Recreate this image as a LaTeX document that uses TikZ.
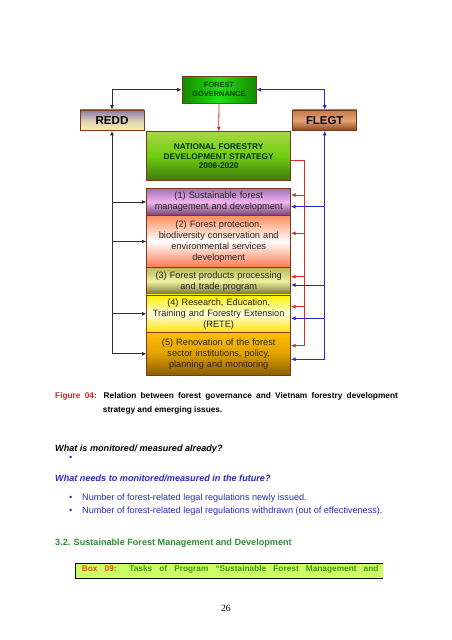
\documentclass[tikz,border=0pt]{standalone}
\usepackage{fontspec}
\setmainfont{Liberation Sans}
\newfontfamily\pagefont{Liberation Serif}
\usetikzlibrary{arrows.meta,calc}
\definecolor{boxedge}{HTML}{7A3A1A}
\definecolor{lnred}{HTML}{E02828}
\definecolor{lnblue}{HTML}{2828C8}
\definecolor{lnblack}{HTML}{303030}
\definecolor{txtblue}{HTML}{2A2AC0}
\definecolor{txtgreen}{HTML}{2F8F2F}
\definecolor{figred}{HTML}{E02020}
\definecolor{boxfill}{HTML}{CCFF66}
\definecolor{boxorange}{HTML}{E85010}
\definecolor{boxgreen}{HTML}{3A9A10}
\definecolor{FGedge}{HTML}{138A00}
\definecolor{FGmid}{HTML}{22E010}
\definecolor{REDDtop}{HTML}{8A78A8}
\definecolor{REDDmid}{HTML}{D8D0B8}
\definecolor{REDDbot}{HTML}{FFF2A0}
\definecolor{FLtop}{HTML}{C07848}
\definecolor{FLmid}{HTML}{E8A478}
\definecolor{FLbot}{HTML}{8A4418}
\definecolor{NFtop}{HTML}{A8D840}
\definecolor{NFmid}{HTML}{6CCC10}
\definecolor{NFbot}{HTML}{3E780A}
\definecolor{B1top}{HTML}{A070B0}
\definecolor{B1mid}{HTML}{F0B4F0}
\definecolor{B1bot}{HTML}{704070}
\definecolor{B2top}{HTML}{FF9060}
\definecolor{B2mid}{HTML}{FFFFFF}
\definecolor{B2bot}{HTML}{FF7850}
\definecolor{B3top}{HTML}{B8B860}
\definecolor{B3mid}{HTML}{F0F0A0}
\definecolor{B3bot}{HTML}{6E6E30}
\definecolor{B4top}{HTML}{FFF000}
\definecolor{B4mid}{HTML}{FFFFE0}
\definecolor{B4bot}{HTML}{FFE000}
\definecolor{B5top}{HTML}{FFC000}
\definecolor{B5mid}{HTML}{E0A000}
\definecolor{B5bot}{HTML}{8A5E00}
\tikzset{
  x=1pt, y=-1pt,
  bx/.style={draw=boxedge, line width=0.6pt, minimum width=144pt, text width=140pt,
    align=center, inner sep=0pt, font=\fontsize{9.2}{11}\selectfont, text=black!85},
  hd/.style={draw=boxedge, line width=0.6pt, inner sep=0pt, align=center},
  blk/.style={draw=lnblack, line width=0.8pt},
  rd/.style={draw=lnred, line width=0.8pt},
  bl/.style={draw=lnblue, line width=0.8pt},
  tip/.style={-{Latex[length=4.5pt,width=4pt]}},
  tips/.style={{Latex[length=4.5pt,width=4pt]}-{Latex[length=4.5pt,width=4pt]}},
  txt/.style={inner sep=0pt, anchor=base west},
}
\begin{document}
\begin{tikzpicture}
\fill[white] (0,0) rectangle (452,640);
\useasboundingbox (0,0) rectangle (452,640);

% header boxes
\node[hd, minimum width=74pt, minimum height=27.3pt, left color=FGedge, right color=FGedge, middle color=FGmid,
  font=\fontsize{7.4}{8.7}\selectfont\bfseries, text=green!25!black] (fg) at (219,89.7) {FOREST\\GOVERNANCE};
\node[hd, minimum width=64pt, minimum height=20.7pt, top color=REDDtop, bottom color=REDDbot, middle color=REDDmid,
  font=\fontsize{11.6}{13}\selectfont\bfseries] (redd) at (112,120.3) {REDD};
\node[hd, minimum width=64pt, minimum height=20.7pt, top color=FLtop, bottom color=FLbot, middle color=FLmid,
  font=\fontsize{11.4}{13}\selectfont\bfseries] (flegt) at (324.7,120.3) {FLEGT};
\node[hd, minimum width=144pt, minimum height=49pt, top color=NFtop, bottom color=NFbot, middle color=NFmid,
  font=\fontsize{8.3}{9.8}\selectfont\bfseries, text=black!80!green] (nf) at (218.7,156.2) {NATIONAL FORESTRY\\DEVELOPMENT STRATEGY\\2006-2020};

% program boxes
\node[bx, minimum height=27.4pt, top color=B1top, bottom color=B1bot, middle color=B1mid] (b1) at (218.7,202) {(1) Sustainable forest\\management and development};
\node[bx, minimum height=51.6pt, top color=B2top, bottom color=B2bot, middle color=B2mid] (b2) at (218.7,241.5) {(2) Forest protection,\\biodiversity conservation and\\environmental services\\development};
\node[bx, minimum height=27.7pt, top color=B3top, bottom color=B3bot, middle color=B3mid] (b3) at (218.7,281.2) {(3) Forest products processing\\and trade program};
\node[bx, minimum height=37.7pt, top color=B4top, bottom color=B4bot, middle color=B4mid] (b4) at (218.7,313.8) {(4) Research, Education,\\Training and Forestry Extension\\(RETE)};
\node[bx, minimum height=42.3pt, top color=B5top, bottom color=B5bot, middle color=B5mid] (b5) at (218.7,353.8) {(5) Renovation of the forest\\sector institutions, policy,\\planning and monitoring};

% top connectors
\draw[blk, tips] (redd.north) |- (fg.west);
\draw[bl, tips] (flegt.north) |- (fg.east);
\draw[rd, tip] (fg.south) -- (nf.north);

% black trunk (REDD)
\draw[blk, tip] (redd.south |- b5.west) -- (redd.south);
\foreach \b in {b1,b2,b4,b5} \draw[blk, tip] (redd.south |- \b.west) -- (\b.west);

% red trunk (strategy)
\coordinate (rtop) at (304.3,160);
\coordinate (r1) at (304.3,195);
\coordinate (r2) at (304.3,233.3);
\coordinate (r3) at (304.3,276.7);
\coordinate (r4) at (304.3,306.7);
\coordinate (r5) at (304.3,345.7);
\draw[rd] (nf.east |- rtop) -- (rtop) -- (r5);
\draw[rd, tip] (r1) -- (b1.east |- r1);
\draw[rd, tip] (r2) -- (b2.east |- r2);
\draw[rd, tip] (r3) -- (b3.east |- r3);
\draw[rd, tip] (r4) -- (b4.east |- r4);
\draw[rd, tip] (r5) -- (b5.east |- r5);

% blue trunk (FLEGT)
\coordinate (u1) at (324.7,206.7);
\coordinate (u3) at (324.7,285);
\coordinate (u4) at (324.7,318.3);
\coordinate (u5) at (324.7,359.3);
\draw[bl, tip] (u5) -- (flegt.south);
\draw[bl, tip] (u1) -- (b1.east |- u1);
\draw[bl, tip] (u3) -- (b3.east |- u3);
\draw[bl, tip] (u4) -- (b4.east |- u4);
\draw[bl, tip] (u5) -- (b5.east |- u5);

% caption
\node[txt, font=\fontsize{8.3}{10}\selectfont\bfseries] (cap1) at (55,398)
  {\makebox[342.7pt][s]{\textcolor{figred}{Figure 04:} Relation between forest governance and Vietnam forestry development}};
\node[txt, font=\fontsize{8.3}{10}\selectfont\bfseries] (cap2) at (102.7,412) {strategy and emerging issues.};

% questions
\node[txt, font=\fontsize{9.1}{11}\selectfont\bfseries\itshape] (q1) at (55,451) {What is monitored/ measured already?};
\node[inner sep=0pt, font=\fontsize{9.1}{11}\selectfont, text=txtblue] (bul0) at (70.7,458.7) {•};
\node[txt, font=\fontsize{9.1}{11}\selectfont\bfseries\itshape, text=txtblue] (q2) at (55,481) {What needs to monitored/measured in the future?};
\node[txt, font=\fontsize{9.1}{11}\selectfont, text=txtblue] (bul1) at (69,500.5) {•};
\node[txt, font=\fontsize{9.1}{11}\selectfont, text=txtblue] (it1) at (82,500.5) {Number of forest-related legal regulations newly issued.};
\node[txt, font=\fontsize{9.1}{11}\selectfont, text=txtblue] (bul2) at (69,513) {•};
\node[txt, font=\fontsize{9.1}{11}\selectfont, text=txtblue] (it2) at (82,513) {Number of forest-related legal regulations withdrawn (out of effectiveness).};

% section heading
\node[txt, font=\fontsize{9.1}{11}\selectfont\bfseries, text=txtgreen] (sec) at (55,545.5) {3.2. Sustainable Forest Management and Development};

% box 09
\fill[boxfill] (75,563.3) rectangle (383.3,578.3);
\draw[black, line width=0.6pt] (383.3,563.3) -- (75,563.3) -- (75,578.3);
\draw[black, line width=1.2pt] (75,578.3) -- (383.3,578.3);
\node[txt, font=\fontsize{8.3}{10}\selectfont\bfseries, text=boxgreen] (box9) at (81.7,571.5)
  {\makebox[296.6pt][s]{\textcolor{boxorange}{Box} \textcolor{boxorange}{09}: Tasks of Program “Sustainable Forest Management and}};

% page number
\node[txt, font=\pagefont\fontsize{9.5}{11}\selectfont] (pg) at (221,611) {26};
\end{tikzpicture}
\end{document}
